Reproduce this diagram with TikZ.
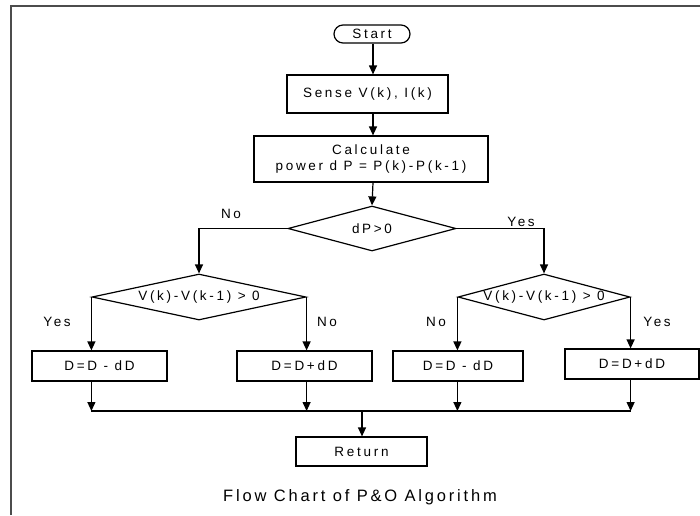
\documentclass[tikz,border=0pt]{standalone}
\usepackage{fontspec}
\setmainfont{Liberation Sans}
\newfontfamily\chartfont{Liberation Sans}[LetterSpace=20]
\newfontfamily\captfont{Liberation Sans}[LetterSpace=17]
\usepackage{tikz}
\usetikzlibrary{positioning, arrows.meta, shapes.geometric, shapes.misc}

\begin{document}
\begin{tikzpicture}[
    x=1pt, y=-1pt, line width=1.2pt,
    font=\chartfont\fontsize{13.5}{16}\selectfont,
    termnode/.style={rounded rectangle, draw, minimum width=76pt, minimum height=18pt, inner sep=0pt},
    procnode/.style={rectangle, draw, align=center, inner sep=0pt},
    decnode/.style={diamond, draw, aspect=1, inner sep=0pt},
    flow/.style={-{Triangle[width=8pt,length=9pt]}},
]
\useasboundingbox (0,0) rectangle (700,515);
\draw[black!70, line width=1.6pt] (11,515) -- (11,6) -- (700,6);

\node[termnode](start) at (372,34){Start};
\node[procnode, minimum width=161pt, minimum height=38pt](sense) at (367.5,94){Sense V(k), I(k)};
\node[procnode, minimum width=234pt, minimum height=46pt](calc) at (371,159){Calculate\\power d P = P(k)-P(k-1)};
\node[decnode, minimum width=168pt, minimum height=45pt](dp) at (372,228.5){\makebox[0pt]{dP>0}};
\node[decnode, minimum width=214pt, minimum height=46pt](vleft) at (199,297){\makebox[0pt]{V(k)-V(k-1) > 0}};
\node[decnode, minimum width=172pt, minimum height=46pt](vright) at (544,297){\makebox[0pt]{V(k)-V(k-1) > 0}};
\node[procnode, minimum width=135pt, minimum height=30pt](decl) at (99.5,366){D=D - dD};
\node[procnode, minimum width=135pt, minimum height=30pt](incl) at (304.5,366){D=D+dD};
\node[procnode, minimum width=130pt, minimum height=30pt](decr) at (458,366){D=D - dD};
\node[procnode, minimum width=134pt, minimum height=30pt](incr) at (632,364){D=D+dD};
\node[procnode, minimum width=131pt, minimum height=29pt](ret) at (361.5,451.5){Return};
\coordinate (merge) at (362,411);

% branch labels
\node(nodp) at (231,214){No};
\node(yesdp) at (521,222){Yes};
\node(yesl) at (57,322){Yes};
\node(nol) at (327,322){No};
\node(nor) at (436,322){No};
\node(yesr) at (657,322){Yes};

\draw[flow] (start.south -| 373,0) -- (sense.north -| 373,0);
\draw[flow] (sense.south -| 373,0) -- (calc.north -| 373,0);
\draw[flow] (calc.south -| 373,0) -- (dp.north);
\draw[flow] (dp.west) -| (vleft.north);
\draw[flow] (dp.east) -| (vright.north);
\foreach \c/\d in {vleft.west/decl, vleft.east/incl, vright.west/decr, vright.east/incr}{
    \draw[flow] (\c) -- (\c |- \d.north);
    \draw[flow] (\d.south -| \c) -- (\c |- merge);
}
\draw (vleft.west |- merge) -- (vright.east |- merge);
\draw[flow] (merge) -- (merge |- ret.north);

\node[font=\captfont\fontsize{16.5}{19}\selectfont](caption) at (360,497){Flow Chart of P\&O Algorithm};
\end{tikzpicture}
\end{document}
